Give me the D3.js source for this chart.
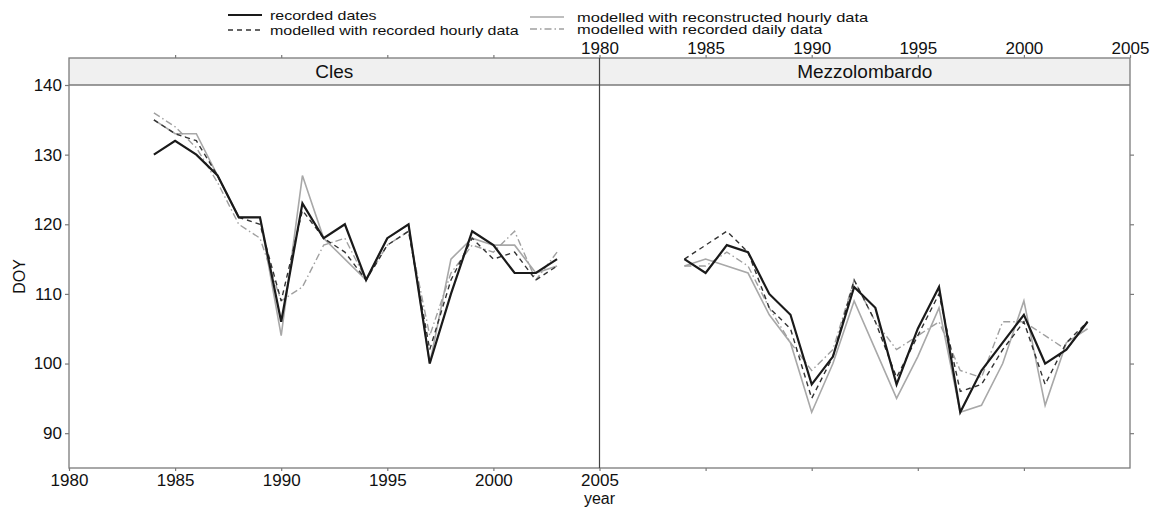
<!DOCTYPE html>
<html>
<head>
<meta charset="utf-8">
<script src="https://cdn.jsdelivr.net/npm/d3@7"></script>
<style>
    body { margin: 0; background: #fff; }
    svg { display: block; font-family: 'Liberation Sans', Arial, sans-serif; }
</style>
</head>
<body>
<div id="container"></div>
<script>
const years = [1984, 1985, 1986, 1987, 1988, 1989, 1990, 1991, 1992, 1993,
    1994, 1995, 1996, 1997, 1998, 1999, 2000, 2001, 2002, 2003];

// Cles
const clesRecorded = [130, 132, 130, 127, 121, 121, 106, 123, 118, 120, 112, 118, 120, 100, 110, 119, 117, 113, 113, 115];
const clesHourly = [135, 133, 132, 127, 121, 120, 109, 122, 118, 116, 112, 117, 119, 102, 112, 118, 115, 116, 112, 114];
const clesReconstructed = [135, 133, 133, 127, 121, 121, 104, 127, 118, 115, 112, 118, 120, 100, 115, 118, 117, 117, 113, 114];
const clesDaily = [136, 134, 131, 126, 120, 118, 109, 111, 117, 118, 112, 117, 119, 104, 113, 117, 116, 119, 112, 116];

// Mezzolombardo
const mezRecorded = [115, 113, 117, 116, 110, 107, 97, 101, 111, 108, 97, 105, 111, 93, 99, 103, 107, 100, 102, 106];
const mezHourly = [115, 117, 119, 116, 108, 105, 95, 101, 112, 106, 98, 104, 110, 96, 97, 102, 106, 97, 103, 106];
const mezReconstructed = [114, 115, 114, 113, 107, 103, 93, 100, 109, 102, 95, 101, 108, 93, 94, 100, 109, 94, 103, 105];
const mezDaily = [114, 114, 116, 114, 108, 103, 99, 102, 112, 106, 102, 104, 106, 99, 98, 106, 106, 104, 102, 106];

const yearTicks = [1980, 1985, 1990, 1995, 2000, 2005];
const doyTicks = [90, 100, 110, 120, 130, 140];

const seriesNames = [
    'recorded dates',
    'modelled with recorded hourly data',
    'modelled with reconstructed hourly data',
    'modelled with recorded daily data'
];

const panels = [
    { name: 'Cles', series: [clesRecorded, clesHourly, clesReconstructed, clesDaily] },
    { name: 'Mezzolombardo', series: [mezRecorded, mezHourly, mezReconstructed, mezDaily] }
];

/* line styles, same order as seriesNames */
const styles = [
    { color: '#1a1a1a', width: 2.2, dash: null },
    { color: '#333', width: 1.4, dash: '5,4' },
    { color: '#a8a8a8', width: 1.6, dash: null },
    { color: '#a0a0a0', width: 1.4, dash: '7,3,1.5,3' }
];

const width = 1156, height = 509;
const frame = { left: 69, right: 1130, top: 58, strip: 85, bottom: 468 };
const mid = (frame.left + frame.right) / 2;

const svg = d3.select('#container').append('svg')
    .attr('width', width)
    .attr('height', height);

const y = d3.scaleLinear().domain([85, 140]).range([frame.bottom, frame.strip]);
const xs = [
    d3.scaleLinear().domain([1980, 2005]).range([frame.left, mid]),
    d3.scaleLinear().domain([1980, 2005]).range([mid, frame.right])
];
const yearFormat = d3.format('d');

const frameColor = '#7a7a7a';

// strips
panels.forEach((p, i) => {
    const x = xs[i];
    svg.append('rect')
        .attr('x', x.range()[0]).attr('y', frame.top)
        .attr('width', x.range()[1] - x.range()[0])
        .attr('height', frame.strip - frame.top)
        .attr('fill', '#f0f0f0');
    svg.append('text')
        .attr('x', (x.range()[0] + x.range()[1]) / 2)
        .attr('y', frame.strip - 7)
        .attr('text-anchor', 'middle')
        .attr('font-size', 19)
        .attr('fill', '#111')
        .text(p.name);
});

// frame lines
svg.append('rect')
    .attr('x', frame.left).attr('y', frame.top)
    .attr('width', frame.right - frame.left)
    .attr('height', frame.bottom - frame.top)
    .attr('fill', 'none')
    .attr('stroke', frameColor)
    .attr('stroke-width', 1.3);
svg.append('line')
    .attr('x1', frame.left).attr('x2', frame.right)
    .attr('y1', frame.strip).attr('y2', frame.strip)
    .attr('stroke', frameColor).attr('stroke-width', 1.3);
svg.append('line')
    .attr('x1', mid).attr('x2', mid)
    .attr('y1', frame.top).attr('y2', frame.bottom)
    .attr('stroke', '#444').attr('stroke-width', 1.2);

function styleAxis(g, showLabels) {
    g.select('.domain').remove();
    g.selectAll('.tick line').attr('stroke', frameColor).attr('stroke-width', 1.2);
    g.selectAll('.tick text')
        .attr('font-size', 17)
        .attr('fill', '#111')
        .attr('font-family', "'Liberation Sans', Arial, sans-serif");
    if (!showLabels) g.selectAll('.tick text').remove();
}

// y axes
svg.append('g')
    .attr('transform', `translate(${frame.left},0)`)
    .call(d3.axisLeft(y).tickValues(doyTicks).tickSize(4).tickPadding(3))
    .call(g => styleAxis(g, true));
svg.append('g')
    .attr('transform', `translate(${frame.right},0)`)
    .call(d3.axisRight(y).tickValues(doyTicks.slice(0, 5)).tickSize(4))
    .call(g => styleAxis(g, false));

// x axes: alternating labels like lattice
svg.append('g')
    .attr('transform', `translate(0,${frame.bottom})`)
    .call(d3.axisBottom(xs[0]).tickValues(yearTicks).tickFormat(yearFormat).tickSize(3).tickPadding(3))
    .call(g => styleAxis(g, true));
svg.append('g')
    .attr('transform', `translate(0,${frame.bottom})`)
    .call(d3.axisBottom(xs[1]).tickValues(yearTicks.slice(1, 5)).tickSize(3))
    .call(g => styleAxis(g, false));
svg.append('g')
    .attr('transform', `translate(0,${frame.top})`)
    .call(d3.axisTop(xs[0]).tickValues(yearTicks.slice(1, 5)).tickSize(3))
    .call(g => styleAxis(g, false));
svg.append('g')
    .attr('transform', `translate(0,${frame.top})`)
    .call(d3.axisTop(xs[1]).tickValues(yearTicks).tickFormat(yearFormat).tickSize(3).tickPadding(1))
    .call(g => styleAxis(g, true));

// axis titles
svg.append('text')
    .attr('x', mid).attr('y', 504)
    .attr('text-anchor', 'middle')
    .attr('font-size', 16)
    .attr('fill', '#111')
    .text('year');
svg.append('text')
    .attr('transform', `translate(25,${(frame.strip + frame.bottom) / 2}) rotate(-90)`)
    .attr('text-anchor', 'middle')
    .attr('font-size', 16)
    .attr('fill', '#111')
    .text('DOY');

// data lines
panels.forEach((p, i) => {
    const x = xs[i];
    const line = d3.line()
        .x((d, k) => x(years[k]))
        .y(d => y(d));
    const g = svg.append('g').attr('class', 'lines');
    // draw light lines first so the dark ones stay on top
    [2, 3, 1, 0].forEach(s => {
        g.append('path')
            .datum(p.series[s])
            .attr('d', line)
            .attr('fill', 'none')
            .attr('stroke', styles[s].color)
            .attr('stroke-width', styles[s].width)
            .attr('stroke-dasharray', styles[s].dash)
            .attr('stroke-linejoin', 'miter');
    });
});

// legend, two columns
const legendItems = [
    { s: 0, x: 228, y: 15, tx: 42, sx: 1 },
    { s: 1, x: 228, y: 30, tx: 42, sx: 1 },
    { s: 2, x: 530, y: 17, tx: 47, sx: 1.03 },
    { s: 3, x: 530, y: 29, tx: 47, sx: 1.03 }
];
const legend = svg.append('g').attr('class', 'legend');
legendItems.forEach(it => {
    const st = styles[it.s];
    legend.append('line')
        .attr('x1', it.x).attr('x2', it.x + 34)
        .attr('y1', it.y).attr('y2', it.y)
        .attr('stroke', st.color)
        .attr('stroke-width', st.width)
        .attr('stroke-dasharray', st.dash);
    legend.append('text')
        .attr('transform', `translate(${it.x + it.tx},${it.y + 5}) scale(${it.sx},0.8)`)
        .attr('font-size', 16)
        .attr('fill', '#111')
        .text(seriesNames[it.s]);
});
</script>
</body>
</html>
